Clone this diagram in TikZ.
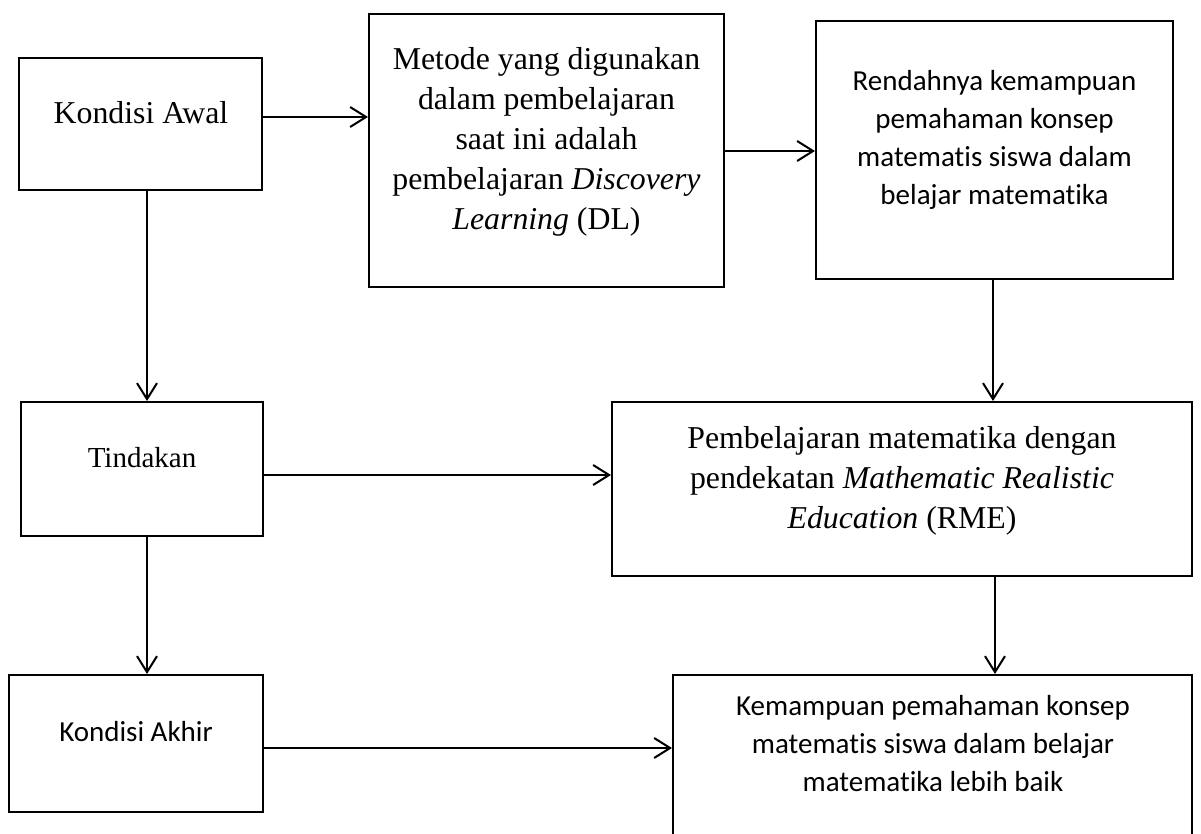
\documentclass[tikz,border=0pt]{standalone}
\usepackage{fontspec}
\setmainfont{Liberation Serif}
\newfontfamily\calibri[Ligatures=NoCommon]{Carlito}
\usetikzlibrary{arrows.meta,fit}

\begin{document}
\begin{tikzpicture}[x=0.5pt,y=-0.5pt,
                    box/.style={draw,line width=1pt,inner sep=0pt},
                    arr/.style={line width=1pt,-{Straight Barb[length=8pt,width=10pt]}},
                    serif/.style={inner sep=0pt,align=flush center,font=\fontsize{15.9}{19.9}\selectfont},
                    sans/.style={inner sep=0pt,align=flush center,font=\calibri\fontsize{14.5}{19}\selectfont}]

  \useasboundingbox (0,0) rectangle (1201,834);

  % kotak-kotak
  \node[box,fit={(19,58) (262,190)}]    (awal)     {};
  \node[box,fit={(369,14) (724,287)}]   (metode)   {};
  \node[box,fit={(816,21) (1173,279)}]  (rendah)   {};
  \node[box,fit={(21,402) (263,536)}]   (tindakan) {};
  \node[box,fit={(612,402) (1192,576)}] (rme)      {};
  \node[box,fit={(9,675) (263,812)}]    (akhir)    {};
  \node[box,fit={(673,675) (1192,870)}] (baik)     {};

  % teks di dalam kotak
  \node[serif,anchor=base] (awalT) at (141,124) {Kondisi Awal};
  \node[serif,anchor=base,text width=170pt] (metodeT) at (546.5,70)
    {Metode yang digunakan\\ dalam pembelajaran\\ saat ini adalah\\ pembelajaran \textit{Discovery}\\ \textit{Learning} (DL)};
  \node[sans,anchor=base,text width=170pt] (rendahT) at (994.5,91)
    {Rendahnya kemampuan\\ pemahaman konsep\\ matematis siswa dalam\\ belajar matematika};
  \node[serif,anchor=base,font=\fontsize{14.5}{18}\selectfont] (tindakanT) at (142,468) {Tindakan};
  \node[serif,anchor=base,text width=280pt] (rmeT) at (902,449)
    {Pembelajaran matematika dengan\\ pendekatan \textit{Mathematic Realistic}\\ \textit{Education} (RME)};
  \node[sans,anchor=base] (akhirT) at (136,741) {Kondisi Akhir};
  \node[sans,anchor=base,text width=250pt] (baikT) at (933,715)
    {Kemampuan pemahaman konsep\\ matematis siswa dalam belajar\\ matematika lebih baik};

  % panah
  \draw[arr] (awal.east |- 0,117)     -- (metode.west |- 0,117);
  \draw[arr] (metode.east |- 0,151)   -- (rendah.west |- 0,151);
  \draw[arr] (awal.south -| 147,0)    -- (tindakan.north -| 147,0);
  \draw[arr] (rendah.south -| 993,0)  -- (rme.north -| 993,0);
  \draw[arr] (tindakan.east |- 0,475) -- (rme.west |- 0,475);
  \draw[arr] (tindakan.south -| 147,0) -- (akhir.north -| 147,0);
  \draw[arr] (rme.south -| 995,0)     -- (baik.north -| 995,0);
  \draw[arr] (akhir.east |- 0,748)    -- (baik.west |- 0,748);
\end{tikzpicture}
\end{document}
